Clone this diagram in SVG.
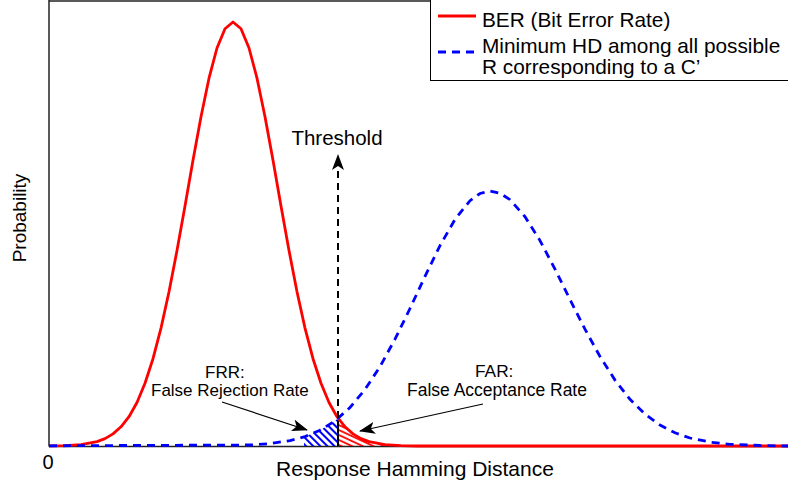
<svg xmlns="http://www.w3.org/2000/svg" width="788" height="489" viewBox="0 0 788 489">
<style>
text{font-family:"Liberation Sans",Arial,sans-serif;fill:#000}
.ax{stroke:#222;stroke-width:1.5;fill:none}
.red{stroke:#ff0000;stroke-width:2.8;fill:none;stroke-linejoin:round}
.blue{stroke:#0000ff;stroke-width:2.8;fill:none;stroke-dasharray:8 6}
.arr{stroke:#000;stroke-width:1.2;fill:none}
</style>
<defs>
<marker id="ah" markerUnits="userSpaceOnUse" markerWidth="16" markerHeight="12" refX="15" refY="6" orient="auto">
<path d="M0,0 L16,6 L0,12 L4,6 Z" fill="#000"/>
</marker>
<pattern id="bh" patternUnits="userSpaceOnUse" width="5" height="5" patternTransform="rotate(-45)">
<line x1="1" y1="0" x2="1" y2="5" stroke="#0000ff" stroke-width="2"/>
</pattern>
<pattern id="rh" patternUnits="userSpaceOnUse" width="4.5" height="5" patternTransform="rotate(-65)">
<line x1="1" y1="0" x2="1" y2="5" stroke="#ff0000" stroke-width="1.8"/>
</pattern>
</defs>
<g id="axes">
<line class="ax" x1="49" y1="1" x2="788" y2="1"/>
<line class="ax" x1="49" y1="0" x2="49" y2="446.5"/>
<line class="ax" x1="49" y1="446.5" x2="788" y2="446.5"/>
</g>
<g id="hatches">
<path d="M304,446 L304,437 L320,430.3 L335,420.9 L338,418.2 L338,446 Z" fill="url(#bh)"/>
<path d="M338,418 L345,426.8 L353,433.9 L361,438.6 L369,441.6 L385,444.6 L392,445 L392,446 L338,446 Z" fill="url(#rh)"/>
<line x1="338" y1="420" x2="338" y2="446" stroke="#000" stroke-width="2"/>
</g>
<g id="curves">
<polyline id="ber" class="red" points="49,445.9 65,445.6 81,444.6 97,441.6 105,438.6 113,433.9 121,426.8 129,416.7 137,402.5 145,383.3 153,358.7 161,328.1 169,291.7 177,250.5 185,206 193,160.3 201,116.7 209,78.2 217,48 225,28.7 233,22 241,28.7 249,48 257,78.2 265,116.7 273,160.3 281,206 289,250.5 297,291.7 305,328.1 313,358.7 321,383.3 329,402.5 337,416.7 345,426.8 353,433.9 361,438.6 369,441.6 385,444.6 401,445.6 417,446 788,446"/>
<polyline id="minhd" class="blue" points="49,445.8 250,445 270,443.6 290,440.6 305,436.6 320,430.3 335,420.9 350,407.5 365,389.5 380,366.6 395,339.2 410,308.5 425,276.3 440,245.6 455,219.4 470,200.7 480,193.5 490,191 500,193.2 510,199.7 525,216.7 540,240.6 555,269.1 570,299.5 585,329.2 600,356.5 615,380.1 630,399.3 645,414.1 660,425.1 675,432.8 690,438 710,442.1 730,444.3 760,445.5 788,446"/>
</g>
<g id="connectors">
<line x1="338" y1="418" x2="338" y2="155" stroke="#000" stroke-width="2" stroke-dasharray="7 5" marker-end="url(#ah)"/>
<line class="arr" x1="222" y1="402" x2="307" y2="430" marker-end="url(#ah)"/>
<line class="arr" x1="483" y1="404" x2="360" y2="431" marker-end="url(#ah)"/>
</g>
<g id="threshold"><text x="337" y="145" font-size="20.5" text-anchor="middle">Threshold</text></g>
<g id="frr">
<text x="205" y="378" font-size="17">FRR:</text>
<text x="151" y="396" font-size="17">False Rejection Rate</text>
</g>
<g id="far">
<text x="475" y="377" font-size="17.3">FAR:</text>
<text x="407" y="396" font-size="17.5">False Acceptance Rate</text>
</g>
<g id="legend">
<rect x="430.5" y="-1" width="400" height="81.5" fill="#fff" stroke="#000" stroke-width="1"/>
<line x1="438" y1="16" x2="476" y2="16" stroke="#ff0000" stroke-width="2.8"/>
<line x1="438" y1="52" x2="476" y2="52" stroke="#0000ff" stroke-width="2.8" stroke-dasharray="8 6"/>
<text x="482" y="27" font-size="20.8">BER (Bit Error Rate)</text>
<text x="482" y="53" font-size="20.8">Minimum HD among all possible</text>
<text x="482" y="74" font-size="20.8">R corresponding to a C’</text>
</g>
<g id="labels">
<text x="48" y="469" font-size="20" text-anchor="middle">0</text>
<text x="415" y="476" font-size="21" text-anchor="middle">Response Hamming Distance</text>
<text transform="translate(26,218) rotate(-90)" font-size="19" text-anchor="middle">Probability</text>
</g>
</svg>
